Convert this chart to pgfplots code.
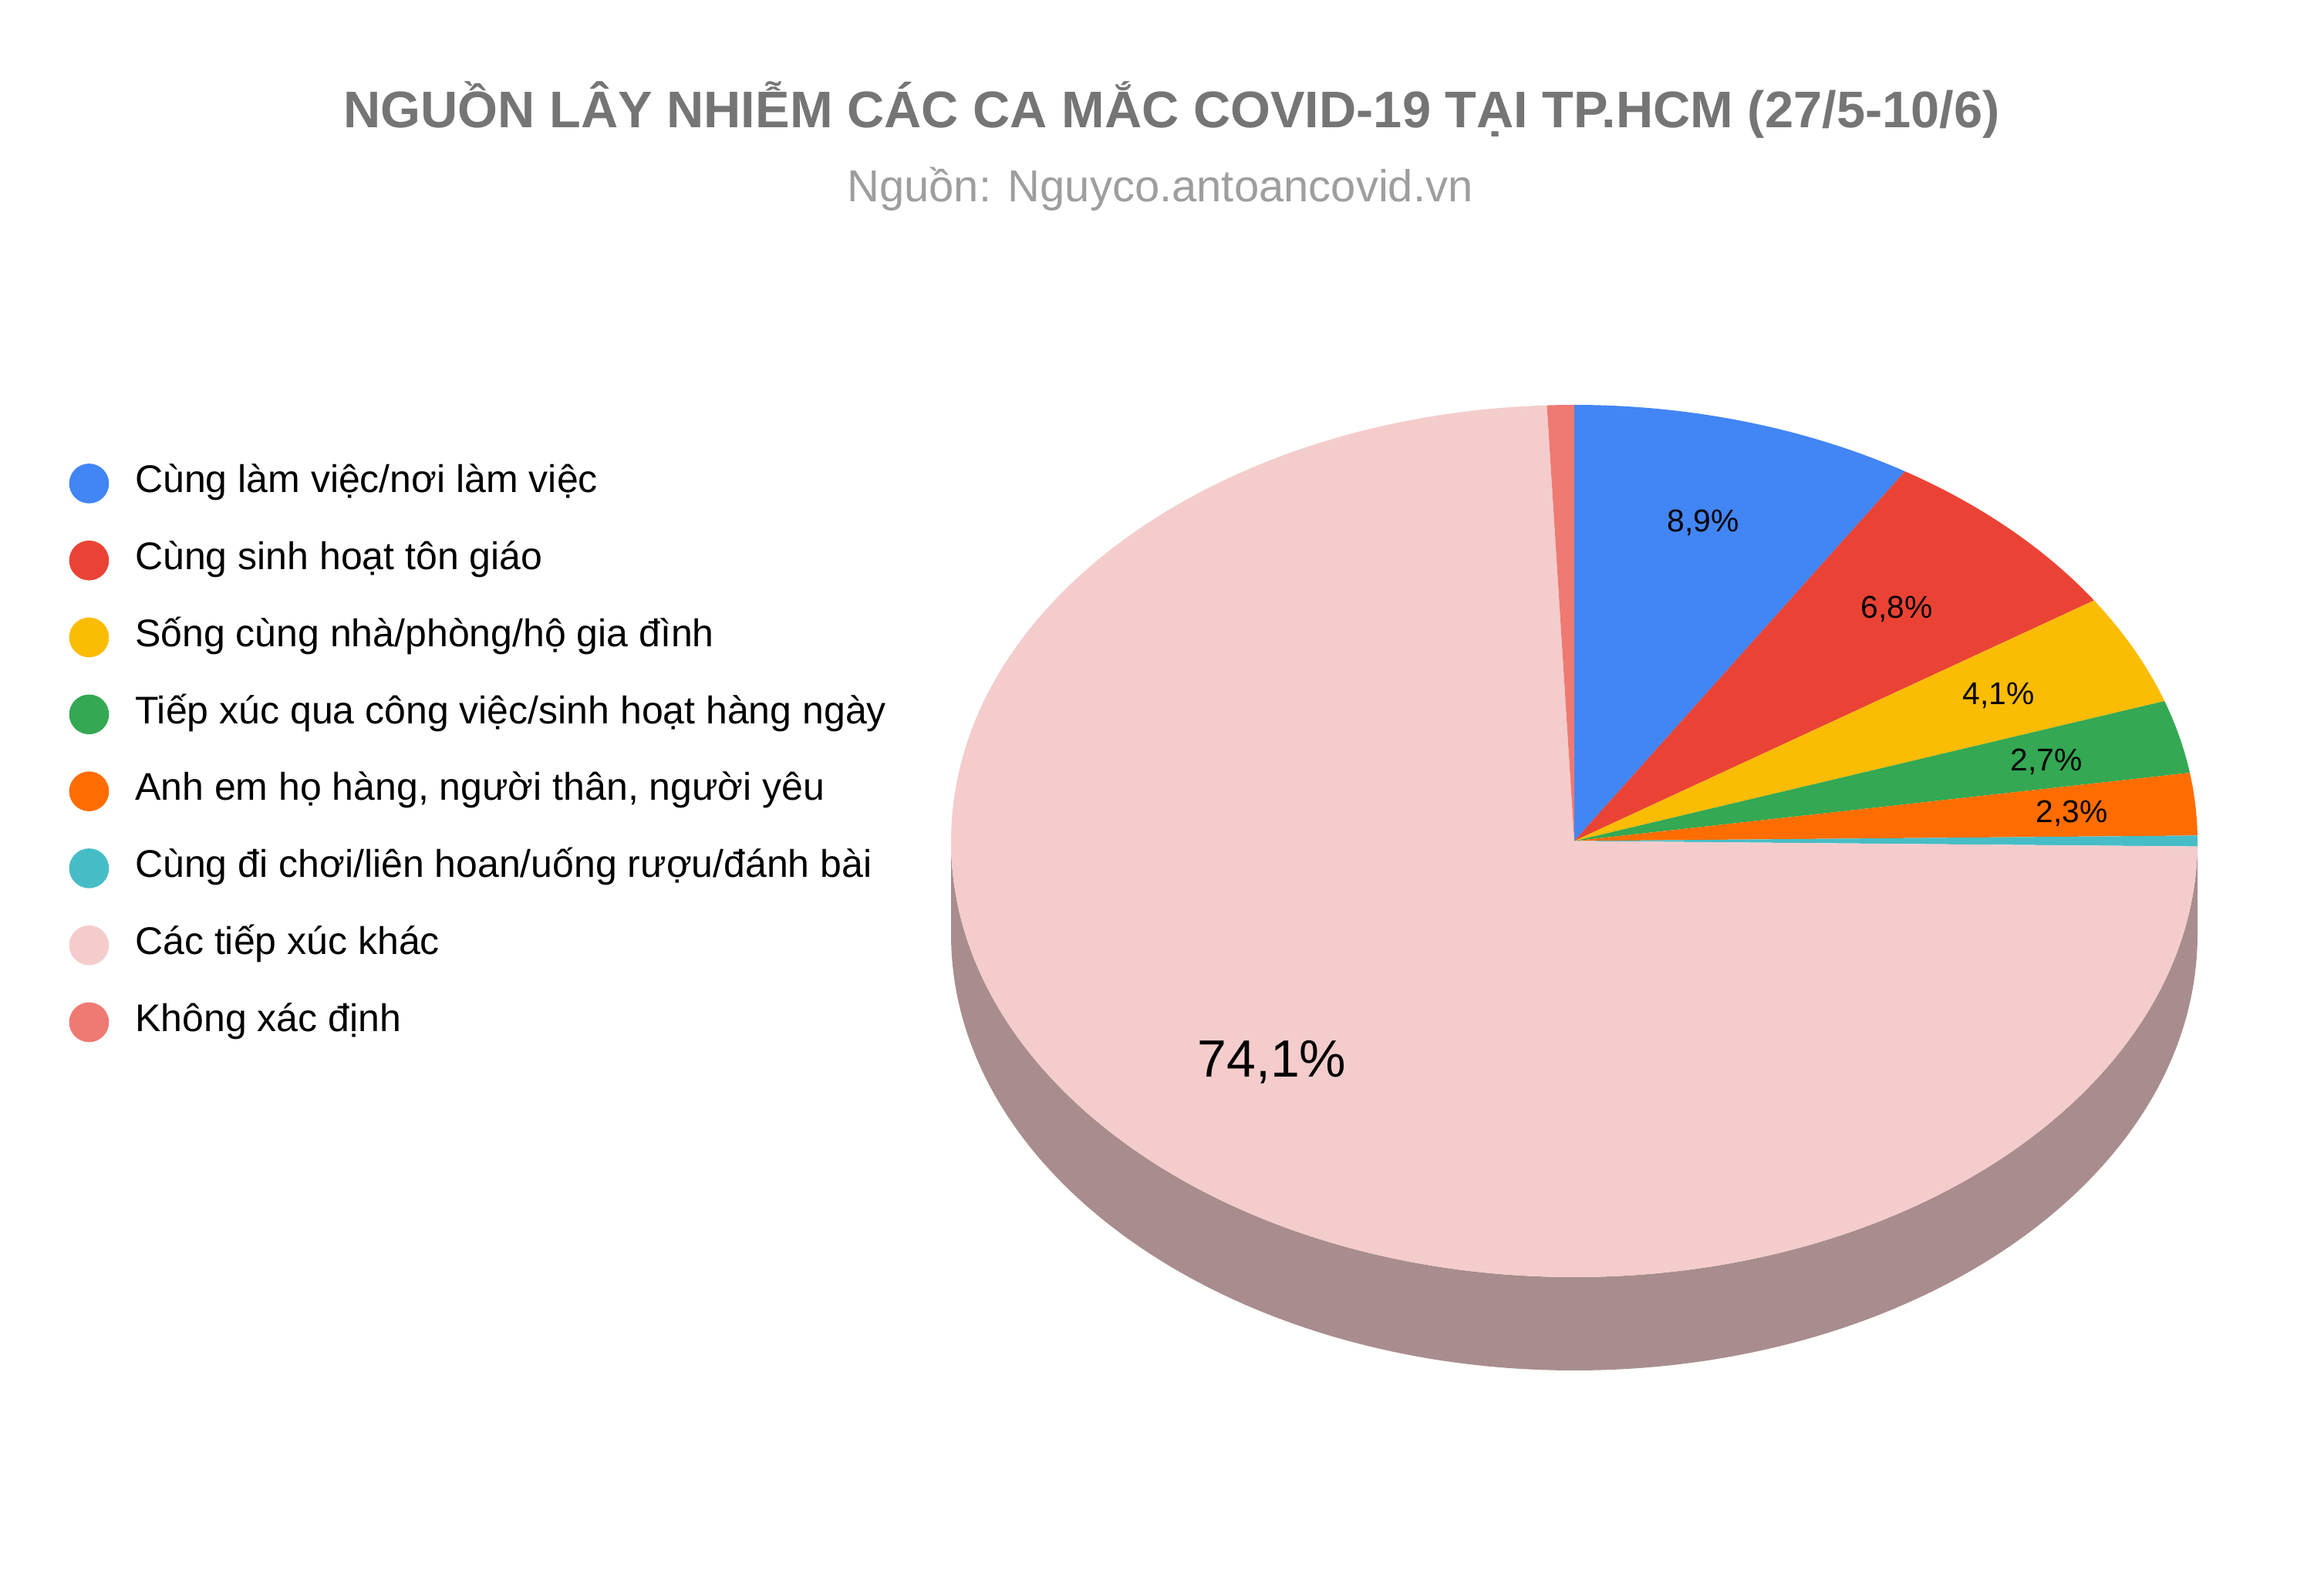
\documentclass[border=0pt]{standalone}
\usepackage{fontspec}
\setmainfont{Liberation Sans}
\usepackage{pgfplots}
\usepackage{pgfplotstable}
\pgfplotsset{compat=1.18}

\definecolor{c0}{HTML}{4285F4}
\definecolor{c1}{HTML}{EA4335}
\definecolor{c2}{HTML}{FBBC04}
\definecolor{c3}{HTML}{34A853}
\definecolor{c4}{HTML}{FF6D01}
\definecolor{c5}{HTML}{46BDC6}
\definecolor{c6}{HTML}{F4CCCC}
\definecolor{c7}{HTML}{EE7A72}
\definecolor{pieside}{HTML}{A98D8E}
\definecolor{titlegray}{HTML}{757575}
\definecolor{subgray}{HTML}{9E9E9E}

% share of each source, in %, clockwise from 12 o'clock
\pgfplotstableread{
pct
8.9
6.8
4.1
2.7
2.3
0.4
74.1
0.7
}\piedata

\begin{document}
\begin{tikzpicture}
% start and end angle of each slice
\def\acc{90}
\foreach \i in {0,...,7}{
  \pgfplotstablegetelem{\i}{pct}\of\piedata
  \pgfmathsetmacro\aend{\acc-3.6*\pgfplotsretval}
  \expandafter\xdef\csname as\i\endcsname{\acc}
  \expandafter\xdef\csname ae\i\endcsname{\aend}
  \xdef\acc{\aend}
}
\def\rx{202pt}
\def\ry{141.375pt}
\begin{axis}[
  scale only axis,
  width=753.25pt, height=515.75pt,
  xmin=0, xmax=3013, ymin=0, ymax=2063,
  y dir=reverse,
  hide axis, clip=false,
  legend cell align=left,
  legend image code/.code={\fill[#1] (6.25pt,0pt) circle[radius=6.25pt];},
  legend style={draw=none, fill=none, inner sep=0pt,
    at={(0.0295,0.7090)}, anchor=north west,
    font=\fontsize{12.5}{15}\selectfont,
    column sep=8.5pt, row sep=12.05pt,
    nodes={inner sep=0pt, text height=9.2pt, text depth=3.3pt}},
]
\path (rel axis cs:0,0) rectangle (rel axis cs:1,1);

% side of the disc
\fill[pieside] (axis cs:2041,1090.5) ++(0:\rx\space and \ry)
  arc[start angle=0, end angle=-180, x radius=\rx, y radius=\ry]
  -- ++(0pt,-30.25pt)
  arc[start angle=180, end angle=360, x radius=\rx, y radius=\ry] -- cycle;

% slices
\pgfplotsinvokeforeach{0,...,7}{
  \fill[c#1] (axis cs:2041,1090.5) -- ++(\csname as#1\endcsname:202pt and 141.375pt)
    arc[start angle=\csname as#1\endcsname, end angle=\csname ae#1\endcsname,
        x radius=202pt, y radius=141.375pt] -- cycle;
}

% slice labels
\begin{scope}[every node/.style={anchor=base, font=\fontsize{10.2}{12}\selectfont}]
\node at (axis cs:2208,690) {8,9\%};
\node at (axis cs:2459,802) {6,8\%};
\node at (axis cs:2591,914) {4,1\%};
\node at (axis cs:2653,1000) {2,7\%};
\node at (axis cs:2686,1067) {2,3\%};
\end{scope}
\node[anchor=base, font=\fontsize{17}{20}\selectfont] at (axis cs:1649,1397) {74,1\%};

% titles
\node[anchor=base, text=titlegray, font=\bfseries\fontsize{16.7}{20}\selectfont]
  at (axis cs:1519,166) {NGUỒN LÂY NHIỄM CÁC CA MẮC COVID-19 TẠI TP.HCM (27/5-10/6)};
\node[anchor=base, text=subgray, font=\fontsize{14.5}{17}\selectfont]
  at (axis cs:1504,262) {Nguồn: Nguyco.antoancovid.vn};

\addlegendimage{c0}\addlegendentry{Cùng làm việc/nơi làm việc}
\addlegendimage{c1}\addlegendentry{Cùng sinh hoạt tôn giáo}
\addlegendimage{c2}\addlegendentry{Sống cùng nhà/phòng/hộ gia đình}
\addlegendimage{c3}\addlegendentry{Tiếp xúc qua công việc/sinh hoạt hàng ngày}
\addlegendimage{c4}\addlegendentry{Anh em họ hàng, người thân, người yêu}
\addlegendimage{c5}\addlegendentry{Cùng đi chơi/liên hoan/uống rượu/đánh bài}
\addlegendimage{c6}\addlegendentry{Các tiếp xúc khác}
\addlegendimage{c7}\addlegendentry{Không xác định}
\end{axis}
\end{tikzpicture}
\end{document}
